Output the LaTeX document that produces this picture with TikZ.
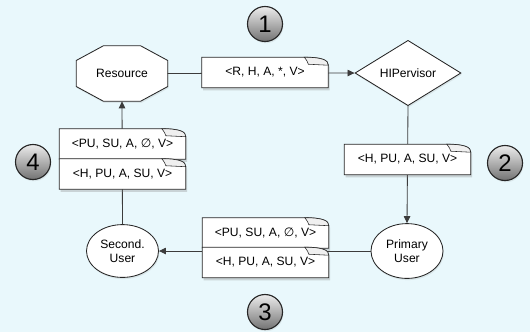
\documentclass[tikz,border=0pt]{standalone}
\usepackage{fontspec}
\setmainfont{Liberation Sans}
\newfontfamily\symfont{DejaVu Sans}
\usetikzlibrary{arrows.meta,shapes.geometric,shadows,calc}
\definecolor{bgblue}{RGB}{233,248,252}
\definecolor{linegray}{RGB}{60,60,60}
\pgfdeclarelayer{fg}
\pgfsetlayers{main,fg}

\begin{document}
\begin{tikzpicture}[x=0.025cm,y=-0.025cm,>={Triangle[length=5pt,width=4.6pt]},
  font=\fontsize{8.6}{10}\selectfont,line cap=round,
  conn/.style={draw=linegray,line width=0.6pt},
  shp/.style={draw=black!85,line width=0.6pt,fill=white,inner sep=0pt,align=center,
    drop shadow={shadow xshift=0.6pt,shadow yshift=-1.2pt,opacity=0.15}},
  msg/.style={minimum width=3.15cm,minimum height=0.75cm,inner sep=0pt},
  num/.style={circle,minimum size=0.875cm,draw=black!85,line width=0.8pt,inner sep=0pt,
    top color=gray!15,bottom color=black!55,font=\fontsize{17}{17}\selectfont,
    drop shadow={shadow xshift=0.6pt,shadow yshift=-1.2pt,opacity=0.15}}]
\fill[bgblue] (0,0) rectangle (530,332);
\useasboundingbox (0,0) rectangle (530,332);
\node[minimum width=2.275cm,minimum height=1.375cm,inner sep=0pt] (res) at (122,73.5) {};
\filldraw[fill=white,draw=black!85,line width=0.6pt,drop shadow={shadow xshift=0.6pt,shadow yshift=-1.2pt,opacity=0.15}]
  ($(res.north)+(-18.5,0)$) -- ($(res.north)+(18.5,0)$) -- ($(res.east)+(0,-13)$) -- ($(res.east)+(0,13)$)
  -- ($(res.south)+(18.5,0)$) -- ($(res.south)+(-18.5,0)$) -- ($(res.west)+(0,13)$) -- ($(res.west)+(0,-13)$) -- cycle;
\node (reslabel) at (res) {Resource};
\node[shp,diamond,minimum width=2.65cm,minimum height=1.35cm] (hip) at (408,73) {HIPervisor};
\node[shp,ellipse,minimum width=1.8cm,minimum height=1.37cm] (pu) at (407,251) {Primary\\User};
\node[shp,ellipse,minimum width=1.8cm,minimum height=1.32cm] (su) at (122.5,251) {Second.\\User};
\draw[conn,->] (res.east) -- (hip.west);
\draw[conn,->] (hip.south) -- (pu.north);
\draw[conn,->] (pu.west) -- (su.east);
\draw[conn,->] (su.north) -- (res.south);
\begin{pgfonlayer}{fg}
\node[msg] (req) at (265,72.5) {<R, H, A, *, V>};
\node[msg] (fwd) at (407.5,159.5) {<H, PU, A, SU, V>};
\node[msg] (relA) at (265.5,233) {<PU, SU, A, {\symfont ∅}, V>};
\node[msg] (relB) at (265.5,262.5) {<H, PU, A, SU, V>};
\node[msg] (retA) at (122.5,144) {<PU, SU, A, {\symfont ∅}, V>};
\node[msg] (retB) at (122.5,174) {<H, PU, A, SU, V>};
\end{pgfonlayer}
\foreach \n in {req,fwd,relA,relB,retA,retB}{
  \filldraw[fill=white,draw=black!85,line width=0.6pt,drop shadow={shadow xshift=1pt,shadow yshift=-1.8pt,opacity=0.3}]
    (\n.south west) -- (\n.north west) -- ($(\n.north east)+(-24,0)$)
    .. controls ($(\n.north east)+(-6,0)$) and ($(\n.north east)+(0,3)$) .. ($(\n.north east)+(0,8)$)
    -- (\n.south east) -- cycle;
  \filldraw[fill=gray!12,draw=black!85,line width=0.4pt]
    ($(\n.north east)+(-24,0)$) .. controls ($(\n.north east)+(-21,4)$) .. ($(\n.north east)+(-20,7)$)
    -- ($(\n.north east)+(0,8)$) .. controls ($(\n.north east)+(0,3)$) and ($(\n.north east)+(-6,0)$) .. cycle;
}
\node[num] (n1) at (265,24) {1};
\node[num] (n2) at (505,163) {2};
\node[num] (n3) at (265,312) {3};
\node[num] (n4) at (33,162) {4};
\end{tikzpicture}
\end{document}
